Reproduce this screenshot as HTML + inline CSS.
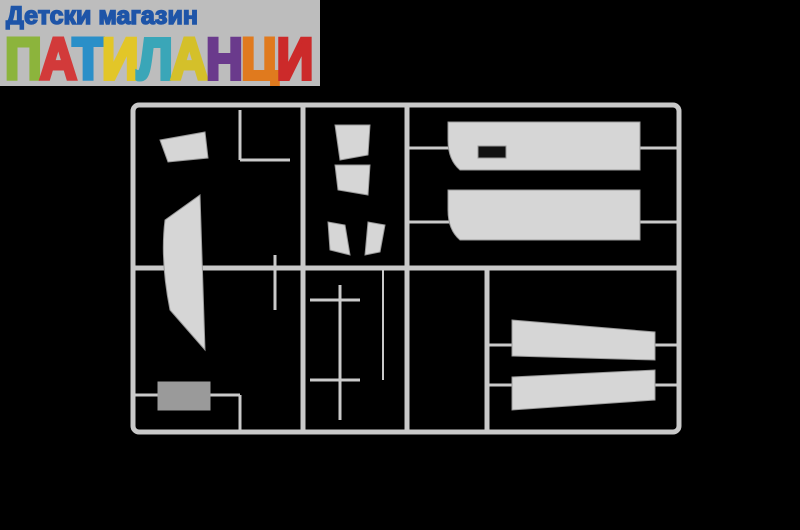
<!DOCTYPE html>
<html><head><meta charset="utf-8"><style>
body{margin:0;width:800px;height:530px;background:#000;overflow:hidden;position:relative;font-family:"Liberation Sans",sans-serif}
#logo{position:absolute;left:0;top:0;width:320px;height:86px;background:#bdbdbd;overflow:hidden}
.t1{position:absolute;left:6px;top:2px;font:bold 25px "Liberation Sans",sans-serif;color:#1e55a8;-webkit-text-stroke:1.5px #1e55a8;white-space:nowrap}
.t2{position:absolute;left:5px;top:26px;font:bold 58px "Liberation Sans",sans-serif;letter-spacing:-2px;white-space:nowrap;transform:scaleX(0.88);transform-origin:left top}
.t2 span{-webkit-text-stroke:4px currentColor}
</style></head><body>
<svg width="800" height="530" style="position:absolute;left:0;top:0">
<g stroke="#c9c9c9" stroke-width="5" fill="none">
<rect x="133" y="105" width="546" height="327" rx="6"/>
<line x1="303" y1="105" x2="303" y2="432"/>
<line x1="407" y1="105" x2="407" y2="432"/>
<line x1="487" y1="268" x2="487" y2="432"/>
<line x1="133" y1="268" x2="679" y2="268"/>
<line x1="407" y1="148" x2="679" y2="148" stroke-width="3"/>
<line x1="407" y1="222" x2="679" y2="222" stroke-width="3"/>
<line x1="487" y1="345" x2="679" y2="345" stroke-width="3"/>
<line x1="487" y1="385" x2="679" y2="385" stroke-width="3"/>
<line x1="240" y1="110" x2="240" y2="160" stroke-width="3"/>
<line x1="240" y1="160" x2="290" y2="160" stroke-width="3"/>
<line x1="133" y1="395" x2="240" y2="395" stroke-width="3"/>
<line x1="240" y1="395" x2="240" y2="432" stroke-width="3"/>
<line x1="383" y1="270" x2="383" y2="380" stroke-width="2"/>
<line x1="340" y1="285" x2="340" y2="420" stroke-width="3"/>
<line x1="310" y1="300" x2="360" y2="300" stroke-width="3"/>
<line x1="310" y1="380" x2="360" y2="380" stroke-width="3"/>
<line x1="275" y1="255" x2="275" y2="310" stroke-width="3"/>
</g>
<g fill="#d6d6d6" stroke="#9a9a9a" stroke-width="1">
<path d="M448 122 L640 122 L640 170 L460 170 Q448 160 448 140Z"/>
<path d="M448 190 L640 190 L640 240 L460 240 Q448 230 448 210Z"/>
<rect x="478" y="146" width="28" height="12" fill="#111"/>
<path d="M512 320 L655 332 L655 360 L512 356Z"/>
<path d="M512 377 L655 370 L655 400 L512 410Z"/>
<path d="M165 220 L200 195 L205 350 L170 310 Q160 260 165 220Z"/>
<path d="M160 140 L205 132 L208 158 L168 162Z"/>
<rect x="158" y="382" width="52" height="28" fill="#9a9a9a"/>
<path d="M335 125 L370 125 L368 155 L340 160Z"/>
<path d="M335 165 L370 165 L368 195 L338 190Z"/>
<path d="M328 222 L345 225 L350 255 L330 250Z"/>
<path d="M368 222 L385 225 L380 252 L365 255Z"/>
</g>
</svg>
<div id="logo">
<div class="t1">Детски магазин</div>
<div class="t2"><span style="color:#8cb43c">П</span><span style="color:#d23a3a">А</span><span style="color:#2a8fc8">Т</span><span style="color:#e2c628">И</span><span style="color:#3aa6b8">Л</span><span style="color:#d4c02a">А</span><span style="color:#6a3a8c">Н</span><span style="color:#e07a1e">Ц</span><span style="color:#cc2a2a">И</span></div>
</div>
</body></html>
